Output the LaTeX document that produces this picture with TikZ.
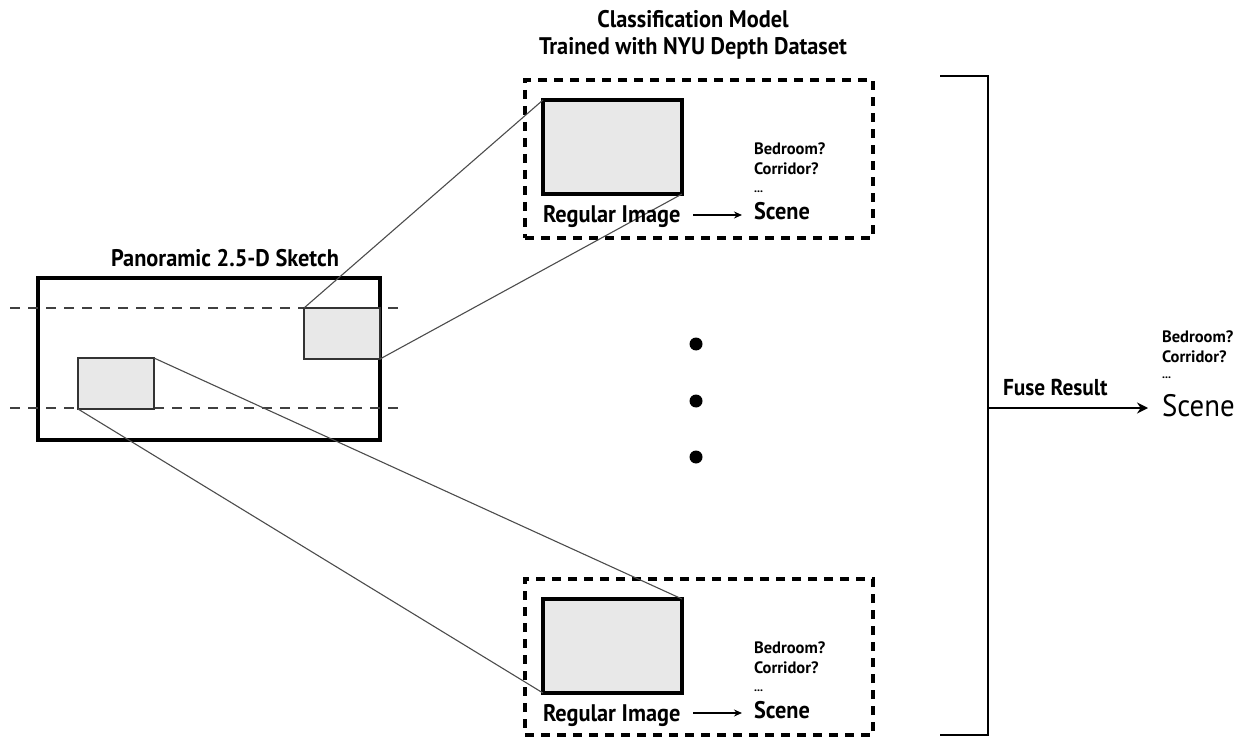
\documentclass[tikz,border=0pt]{standalone}
\usepackage{fontspec}
\setmainfont{PT Sans}[FakeStretch=0.93]
\newfontfamily\semib{PT Sans}[FakeStretch=0.93]
\newfontfamily\clsfont{PT Sans}
\usetikzlibrary{arrows.meta}
\newcommand{\fsz}[1]{\fontsize{#1}{#1}\selectfont}
\tikzset{
  every node/.style={inner sep=0pt, outer sep=0pt},
  frame/.style={draw=black, line width=4.5pt, fill=white},
  snip/.style={draw=black!80, line width=1.6pt, fill=black!9},
  photo/.style={draw=black, line width=4pt, fill=black!9},
  modelbox/.style={draw=black, line width=4pt, dash pattern=on 9pt off 7pt},
  guide/.style={draw=black!75, line width=2pt, dash pattern=on 10pt off 8pt},
  ray/.style={draw=black!70, line width=1.1pt},
  title/.style={font=\fsz{24}\semib\bfseries},
  label/.style={font=\fsz{24}\semib\bfseries},
  cls/.style={font=\fsz{16.5}\clsfont\bfseries, anchor=base west},
  etc/.style={font=\fsz{12}\clsfont\bfseries, anchor=base west},
  dot/.style={circle, fill=black, minimum size=13pt},
  smallarrow/.style={line width=1.6pt, -{Stealth[length=8pt,width=7pt]}},
}
\begin{document}
\begin{tikzpicture}[x=1pt, y=-1pt]
\useasboundingbox (0,0) rectangle (1248,738);

% panoramic sketch with its two crop windows
\node[frame, minimum width=342pt, minimum height=162pt] (pano) at (209,359) {};
\coordinate (g1a) at (10,308); \coordinate (g1b) at (405,308);
\coordinate (g2a) at (10,408); \coordinate (g2b) at (405,408);
\draw[guide] (g1a) -- (g1b);
\draw[guide] (g2a) -- (g2b);
\node[snip, minimum width=76pt, minimum height=51pt] (snipR) at (342,333.5) {};
\node[snip, minimum width=76pt, minimum height=51pt] (snipL) at (116,383.5) {};
\node[title, anchor=base] (panotitle) at (225,266) {Panoramic 2.5-D Sketch};

% classification model boxes
\node[modelbox, minimum width=348pt, minimum height=158pt] (topbox) at (699,159) {};
\node[modelbox, minimum width=348pt, minimum height=156pt] (botbox) at (699,657) {};
\node[photo, minimum width=139pt, minimum height=94pt] (topimg) at (612.5,147) {};
\node[photo, minimum width=139pt, minimum height=94pt] (botimg) at (612.5,646) {};

\node[title, anchor=base] (head1) at (693,28) {Classification Model};
\node[title, anchor=base] (head2) at (693,55) {Trained with NYU Depth Dataset};

% projection rays from the crops to the regular images
\draw[ray] (snipR.north west) -- (topimg.north west);
\draw[ray] (snipR.south east) -- (topimg.south east);
\draw[ray] (snipL.north east) -- (botimg.north east);
\draw[ray] (snipL.south west) -- (botimg.south west);

% labels inside the top box
\node[label, anchor=base west] (reg1) at (543,223) {Regular Image};
\node[label, anchor=base west] (scene1) at (754,220) {Scene};
\node[cls] (bed1) at (754,155) {Bedroom?};
\node[cls] (cor1) at (754,175) {Corridor?};
\node[etc] (etc1) at (754,193) {...};
\coordinate (a1s) at (693,215);
\coordinate (a1e) at (742,215);
\draw[smallarrow] (a1s) -- (a1e);

% labels inside the bottom box
\node[label, anchor=base west] (reg2) at (543,721) {Regular Image};
\node[label, anchor=base west] (scene2) at (754,718) {Scene};
\node[cls] (bed2) at (754,653) {Bedroom?};
\node[cls] (cor2) at (754,673) {Corridor?};
\node[etc] (etc2) at (754,691) {...};
\coordinate (a2s) at (693,713);
\coordinate (a2e) at (742,713);
\draw[smallarrow] (a2s) -- (a2e);

% ellipsis between the two models
\node[dot] (d1) at (696,344) {};
\node[dot] (d2) at (696,401) {};
\node[dot] (d3) at (696,457) {};

% fusion bracket and final result
\coordinate (bt) at (940,76);
\coordinate (btc) at (988,76);
\coordinate (bbc) at (988,735);
\coordinate (bb) at (940,735);
\draw[line width=2.5pt] (bt) -- (btc) -- (bbc) -- (bb);
\coordinate (fuse) at (988,408);
\coordinate (fuseend) at (1148,408);
\node[font=\fsz{31}, anchor=base west] (scene3) at (1162,416) {Scene};
\draw[line width=2.2pt, -{Stealth[length=11pt,width=11pt]}] (fuse) -- (fuseend);
\node[font=\fsz{23}\semib\bfseries, anchor=base west] (fuselbl) at (1003,395) {Fuse Result};
\node[cls] (bed3) at (1162,342) {Bedroom?};
\node[cls] (cor3) at (1162,362) {Corridor?};
\node[etc] (etc3) at (1162,378) {...};
\end{tikzpicture}
\end{document}
